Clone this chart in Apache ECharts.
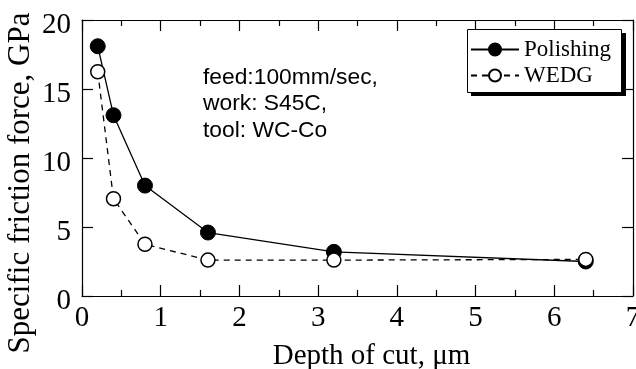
<!DOCTYPE html>
<html>
<head>
<meta charset="utf-8">
<script src="https://cdn.jsdelivr.net/npm/echarts@6/dist/echarts.min.js"></script>
<style>html,body{margin:0;padding:0;background:#fff;}#c{width:636px;height:369px;}</style>
</head>
<body>
<div id="c"></div>
<script>
var depth = [0.2, 0.4, 0.8, 1.6, 3.2, 6.4];
var polishing = [18.1, 13.1, 8.0, 4.6, 3.2, 2.5];
var wedg = [16.25, 7.05, 3.75, 2.6, 2.6, 2.65];
var xTicks = [0, 1, 2, 3, 4, 5, 6, 7];
var yTicks = [0, 5, 10, 15, 20];
var seriesNames = ['Polishing', 'WEDG'];
var noteLines = ['feed:100mm/sec,', 'work: S45C,', 'tool: WC-Co'];

function pairs(xs, ys) { return xs.map(function (x, i) { return [x, ys[i]]; }); }

var serif = 'Liberation Serif';
var chart = echarts.init(document.getElementById('c'), null, {renderer: 'canvas'});
var axisCommon = {
  type: 'value',
  axisLine: {show: true, onZero: false, lineStyle: {color: '#000', width: 1.2}},
  splitLine: {show: false},
  axisTick: {show: true, inside: true, length: 11, lineStyle: {color: '#000', width: 1.2}}
};
chart.setOption({
  animation: false,
  backgroundColor: '#fff',
  grid: {left: 82, top: 20, right: 3, bottom: 73, containLabel: false, outerBoundsMode: 'none'},
  xAxis: [
    Object.assign({}, axisCommon, {
      position: 'bottom', min: xTicks[0], max: xTicks[xTicks.length - 1], interval: 1,
      minorTick: {show: true, splitNumber: 2, length: 6, lineStyle: {color: '#000', width: 1.2}},
      axisLabel: {show: true, margin: 8, color: '#000', fontFamily: serif, fontSize: 29},
      name: 'Depth of cut, \u03bcm', nameLocation: 'middle', nameGap: 46, nameMoveOverlap: false,
      nameTextStyle: {color: '#000', fontFamily: serif, fontSize: 29, padding: [0, 0, 0, 28]}
    }),
    Object.assign({}, axisCommon, {
      position: 'top', min: xTicks[0], max: xTicks[xTicks.length - 1], interval: 1,
      minorTick: {show: true, splitNumber: 2, length: 6, lineStyle: {color: '#000', width: 1.2}},
      axisLabel: {show: false}
    })
  ],
  yAxis: [
    Object.assign({}, axisCommon, {
      position: 'left', min: yTicks[0], max: yTicks[yTicks.length - 1], interval: 5,
      axisLabel: {show: true, margin: 11, color: '#000', fontFamily: serif, fontSize: 29,
        verticalAlign: 'top', lineHeight: 11},
      name: 'Specific friction force, GPa', nameLocation: 'middle', nameGap: 46, nameMoveOverlap: false,
      nameTextStyle: {color: '#000', fontFamily: serif, fontSize: 31, padding: [0, 50, 0, 0]}
    }),
    Object.assign({}, axisCommon, {
      position: 'right', min: yTicks[0], max: yTicks[yTicks.length - 1], interval: 5,
      axisLabel: {show: false}
    })
  ],
  legend: {
    orient: 'vertical', left: 467, top: 30, z: 5,
    data: seriesNames,
    itemWidth: 48, itemHeight: 15, itemGap: 3,
    padding: [8, 6, 4, 3],
    backgroundColor: 'transparent', borderWidth: 0,
    textStyle: {color: '#000', fontFamily: serif, fontSize: 23}
  },
  graphic: [
    {
      type: 'rect', left: 471, top: 33, z: 1,
      shape: {x: 0, y: 0, width: 155, height: 63},
      style: {fill: '#000'}
    },
    {
      type: 'rect', left: 467, top: 29, z: 2,
      shape: {x: 0, y: 0, width: 154, height: 63},
      style: {fill: '#fff', stroke: '#000', lineWidth: 1}
    },
    {
      type: 'text', left: 203, top: 64, z: 10,
      style: {text: noteLines.join('\n'), fill: '#000', font: '22.8px "Liberation Sans"', lineHeight: 26.5}
    }
  ],
  series: [
    {
      name: seriesNames[0], type: 'line', data: pairs(depth, polishing),
      symbol: 'circle', symbolSize: 15,
      lineStyle: {color: '#000', width: 1.3, type: 'solid'},
      itemStyle: {color: '#000', borderColor: '#000', borderWidth: 1}
    },
    {
      name: seriesNames[1], type: 'line', data: pairs(depth, wedg),
      symbol: 'circle', symbolSize: 14,
      lineStyle: {color: '#000', width: 1.3, type: [6, 5]},
      itemStyle: {color: '#fff', borderColor: '#000', borderWidth: 1.5}
    }
  ]
});
</script>
</body>
</html>
